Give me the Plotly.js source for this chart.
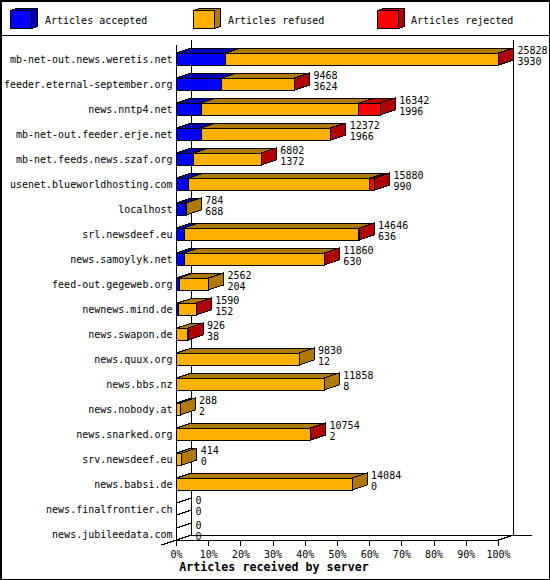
<!DOCTYPE html>
<html><head><meta charset="utf-8">
<script src="https://cdn.plot.ly/plotly-3.0.1.min.js"></script>
<style>html,body{margin:0;padding:0;background:#fff}#c{width:550px;height:580px}
#c .scatterlayer path,#c .shapelayer path,#c .barlayer path,#c .xtick path{shape-rendering:crispEdges}</style>
</head><body><div id="c"></div>
<script>
const hosts = ["mb-net-out.news.weretis.net","feeder.eternal-september.org","news.nntp4.net","mb-net-out.feeder.erje.net","mb-net.feeds.news.szaf.org","usenet.blueworldhosting.com","localhost","srl.newsdeef.eu","news.samoylyk.net","feed-out.gegeweb.org","newnews.mind.de","news.swapon.de","news.quux.org","news.bbs.nz","news.nobody.at","news.snarked.org","srv.newsdeef.eu","news.babsi.de","news.finalfrontier.ch","news.jubileedata.com"];
const totals = [25828,9468,16342,12372,6802,15880,784,14646,11860,2562,1590,926,9830,11858,288,10754,414,14084,0,0];
const accepted = [3930,3624,1996,1966,1372,990,688,636,630,204,152,38,12,8,2,2,0,0,0,0];
const refused = [21858,5824,12616,10382,5414,14510,96,13988,11218,2358,1432,884,9818,11850,286,10742,414,14084,0,0];
const rejected = [40,20,1730,24,16,380,0,22,12,0,6,4,0,0,0,10,0,0,0,0];
const seriesNames = ["Articles accepted","Articles refused","Articles rejected"];
const faceColors = ["#0000ff","#ffb000","#ff0000"];
const darkColors = ["#0000b0","#b07a00","#b00000"];
const percentTicks = [0,10,20,30,40,50,60,70,80,90,100];
const mono = "'DejaVu Sans Mono', monospace";

// page geometry
const W=550,H=580,L=3,R=545,T=30,B=560;
const X0=176.5,PXPCT=3.22,Y0=59,ROW=25;
const dataX=p=>(p-X0)/PXPCT, dataY=p=>(p-Y0)/ROW;
const paperX=p=>(p-L)/(R-L), paperY=p=>(B-p)/(B-T);
const DX=15/PXPCT, DY=5/ROW, HALF=6/ROW;
const maxTotal=Math.max(...totals);
const pct=v=>v/maxTotal*100;
const rows=hosts.map((_,i)=>i);
const series=[accepted,refused,rejected];

const traces=[];
series.forEach((vals,s)=>{
  traces.push({type:"bar",orientation:"h",name:seriesNames[s],y:rows,x:vals.map(pct),width:HALF*2,
    marker:{color:faceColors[s],line:{color:"#000",width:1}},hoverinfo:"name+x",showlegend:false});
});
// depth faces
series.forEach((vals,s)=>{
  const xs=[],ys=[];
  rows.forEach(i=>{
    if(vals[i]<=0) return;
    let start=0; for(let k=0;k<s;k++) start+=pct(series[k][i]);
    const end=start+pct(vals[i]), top=i-HALF;
    xs.push(start,start+DX,end+DX,end,start,null);
    ys.push(top,top-DY,top-DY,top,top,null);
    let last=-1; series.forEach((v,k)=>{if(v[i]>0) last=k;});
    if(last===s){
      xs.push(end,end+DX,end+DX,end,end,null);
      ys.push(top,top-DY,top-DY+2*HALF,top+2*HALF,top,null);
    }
  });
  traces.push({type:"scatter",mode:"lines",x:xs,y:ys,fill:"toself",fillcolor:darkColors[s],
    line:{color:"#000",width:1},hoverinfo:"skip",showlegend:false,cliponaxis:false});
});
// empty rows collapse to slanted edges
{
  const xs=[],ys=[];
  rows.filter(i=>totals[i]===0).forEach(i=>{
    xs.push(0,DX,null,0,DX,null);
    ys.push(i-HALF,i-HALF-DY,null,i+HALF,i+HALF-DY,null);
  });
  traces.push({type:"scatter",mode:"lines",x:xs,y:ys,line:{color:"#000",width:1},hoverinfo:"skip",showlegend:false});
}
// value labels
const labelX=rows.map(i=>pct(totals[i])+DX+4/PXPCT);
[[totals,-8/ROW],[accepted,3/ROW]].forEach(([vals,off])=>{
  traces.push({type:"scatter",mode:"text",x:labelX,y:rows.map(i=>i+off),text:vals.map(String),
    textposition:"middle right",textfont:{family:mono,size:10,color:"#000"},hoverinfo:"skip",showlegend:false,cliponaxis:false});
});

const line=(x0,y0,x1,y1)=>({type:"line",xref:"x",yref:"y",layer:"below",x0,y0,x1,y1,line:{color:"#000",width:1}});
const shapes=[
  line(0,dataY(45),0,dataY(540)),
  line(DX,dataY(40),DX,dataY(535)),
  line(100+DX,dataY(40),100+DX,dataY(535)),
  line(0,dataY(540),100,dataY(540)),
  line(DX,dataY(535),dataX(532),dataY(535)),
  line(dataX(161.5),dataY(545),DX,dataY(535)),
  line(100,dataY(540),100+DX,dataY(535)),
];
const pxRect=(x0,y0,x1,y1,extra)=>Object.assign({type:"rect",xref:"paper",yref:"paper",x0:paperX(x0),y0:paperY(y0),x1:paperX(x1),y1:paperY(y1),line:{color:"#000",width:1}},extra||{});
shapes.push(pxRect(0.5,0.5,549.5,579.5,{line:{color:"#000",width:2}}));
shapes.push({type:"line",xref:"paper",yref:"paper",x0:paperX(0),x1:paperX(550),y0:paperY(35),y1:paperY(35),line:{color:"#000",width:1}});
// legend
const legendX=[10,193,377], legendTextX=[43,226,409], annotations=[];
const poly=(pts,color)=>({type:"path",xref:"paper",yref:"paper",fillcolor:color,line:{color:"#000",width:1},
  path:"M"+pts.map(p=>paperX(p[0])+","+paperY(p[1])).join("L")+"Z"});
seriesNames.forEach((n,s)=>{
  const x=legendX[s]+0.5;
  shapes.push(poly([[x,10.5],[x+6,8.5],[x+27,8.5],[x+27,26.5],[x+21,28.5],[x+21,10.5]],darkColors[s]));
  shapes.push(pxRect(x,10.5,x+21,28.5,{fillcolor:faceColors[s]}));
  annotations.push({xref:"paper",yref:"paper",x:paperX(legendTextX[s]),y:paperY(20),xanchor:"left",yanchor:"middle",showarrow:false,
    text:n,font:{family:mono,size:10,color:"#000"}});
});

const layout={
  width:W,height:H,margin:{l:L,r:W-R,t:T,b:H-B,pad:0},paper_bgcolor:"#fff",plot_bgcolor:"#fff",
  barmode:"stack",showlegend:false,dragmode:false,
  xaxis:{range:[dataX(L),dataX(R)],anchor:"free",position:paperY(540),tickmode:"array",tickvals:percentTicks,ticktext:percentTicks.map(v=>v+"%"),
    ticks:"outside",ticklen:5,tickwidth:1,tickcolor:"#000",showgrid:false,zeroline:false,showline:false,
    tickfont:{family:mono,size:10,color:"#000"},
    title:{text:"<b>Articles received by server</b>",font:{family:mono,size:11.67,color:"#000"},standoff:2}},
  yaxis:{range:[dataY(B),dataY(T)],anchor:"free",position:paperX(X0),tickmode:"array",tickvals:rows,ticktext:hosts,
    ticks:"",ticklen:0,showgrid:false,zeroline:false,showline:false,ticklabelstandoff:4,
    tickfont:{family:mono,size:10,color:"#000"}},
  shapes,annotations
};
Plotly.newPlot("c",traces,layout,{displayModeBar:false,staticPlot:true});
</script></body></html>
